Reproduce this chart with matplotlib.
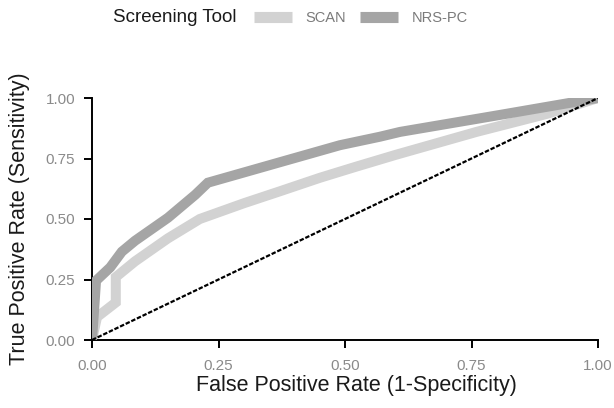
import matplotlib
matplotlib.use("Agg")
import matplotlib.pyplot as plt
from matplotlib.lines import Line2D

plt.rcParams['font.family'] = ['Liberation Sans', 'DejaVu Sans']

# ROC data
scan_fpr = [0.0, 0.010, 0.047, 0.047, 0.085, 0.150, 0.213, 0.300, 0.372, 0.450, 0.520, 0.600, 0.760, 0.900, 1.0]
scan_tpr = [0.0, 0.095, 0.155, 0.260, 0.325, 0.420, 0.500, 0.565, 0.615, 0.670, 0.715, 0.765, 0.860, 0.935, 1.0]

nrs_fpr = [0.0, 0.004, 0.008, 0.036, 0.059, 0.085, 0.150, 0.204, 0.229, 0.372, 0.490, 0.569, 0.609, 0.806, 1.0]
nrs_tpr = [0.0, 0.120, 0.245, 0.300, 0.365, 0.410, 0.505, 0.600, 0.650, 0.735, 0.805, 0.840, 0.860, 0.930, 1.0]

ref_x = [0.0, 1.0]
ref_y = [0.0, 1.0]

tool_names = ["SCAN", "NRS-PC"]
tool_colors = ["#d2d2d2", "#a5a5a5"]
ticks = [0.0, 0.25, 0.5, 0.75, 1.0]
tick_labels = ["0.00", "0.25", "0.50", "0.75", "1.00"]

W, H = 614, 408
fig = plt.figure(figsize=(W / 100, H / 100), dpi=100)
ax = fig.add_axes([92 / W, 1 - 340 / H, (598 - 92) / W, (340 - 98) / H])

lw = 7.2
ax.plot(scan_fpr, scan_tpr, color=tool_colors[0], lw=lw, solid_joinstyle='miter', solid_capstyle='butt', zorder=2)
ax.plot(nrs_fpr, nrs_tpr, color=tool_colors[1], lw=lw, solid_joinstyle='miter', solid_capstyle='butt', zorder=3)
ax.plot(ref_x, ref_y, color='black', lw=1.6, linestyle=(0, (2.0, 0.8)), zorder=4)

ax.set_xlim(0, 1)
ax.set_ylim(0, 1)
ax.set_xticks(ticks)
ax.set_xticklabels(tick_labels)
ax.set_yticks(ticks)
ax.set_yticklabels(tick_labels)
for s in ['top', 'right']:
    ax.spines[s].set_visible(False)
for s in ['left', 'bottom']:
    ax.spines[s].set_linewidth(1.4)
    ax.spines[s].set_color('black')
ax.tick_params(axis='both', direction='out', length=6, width=1.4, color='black',
               labelsize=11, labelcolor='#8a8a8a')
ax.tick_params(axis='x', pad=8)
ax.tick_params(axis='y', pad=6)
ax.patch.set_visible(False)

fig.text(356 / W, 1 - 385 / H, "False Positive Rate (1-Specificity)", ha='center', va='center',
         fontsize=15.5, color='#1a1a1a')
fig.text(20 / W, 1 - 219 / H, "True Positive Rate (Sensitivity)", ha='center', va='center',
         rotation=90, fontsize=15.5, color='#1a1a1a')

# Legend
fig.text(113 / W, 1 - 18 / H, "Screening Tool", ha='left', va='center', fontsize=13.5, color='#1a1a1a')
handles = [Line2D([0], [0], color=c, lw=8, solid_capstyle='butt') for c in tool_colors]
leg = fig.legend(handles, tool_names, loc='center left', bbox_to_anchor=(254 / W, 1 - 18 / H),
                 ncol=2, frameon=False, fontsize=10.5, borderpad=0, borderaxespad=0,
                 handlelength=2.6, handletextpad=0.9, columnspacing=1.0)
for t in leg.get_texts():
    t.set_color('#7a7a7a')

fig.savefig("out.png", dpi=100)
